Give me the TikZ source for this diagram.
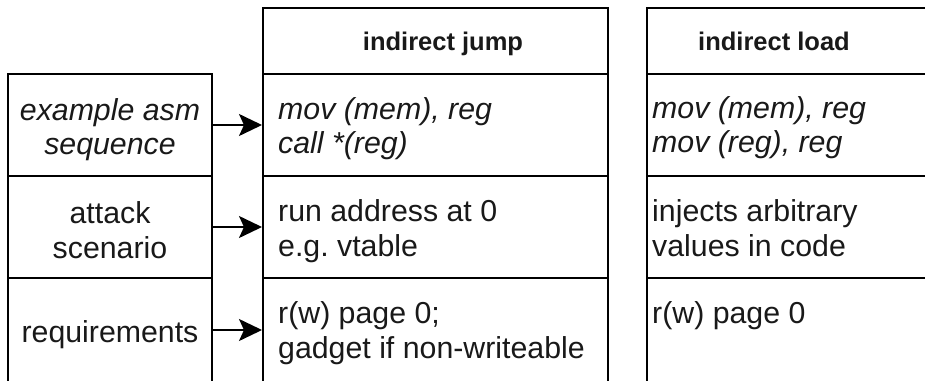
\documentclass[tikz,border=0pt]{standalone}
\usepackage{fontspec}
\setmainfont{Liberation Sans}
\usetikzlibrary{arrows.meta}
\frenchspacing
\begin{document}
\begin{tikzpicture}[x=1pt,y=-1pt,
  cell/.style={draw=black, line width=2pt, rectangle, inner sep=0pt, fill=white},
  body/.style={font=\fontsize{30.3}{34.5}\selectfont, inner sep=0pt, text=black!90},
  bodyit/.style={font=\fontsize{30.3}{34.5}\selectfont\itshape, inner sep=0pt, text=black!90},
  head/.style={font=\fontsize{25.5}{30}\selectfont\bfseries, inner sep=0pt, text=black!90},
  arr/.style={line width=2pt, -{Stealth[length=23pt,width=22pt,inset=5pt]}}]
\useasboundingbox (0,0) rectangle (925,380);
\clip (0,0) rectangle (925,380);

% row labels
\node[cell, minimum width=204pt, minimum height=102pt] (lasm) at (110,125) {};
\node[cell, minimum width=204pt, minimum height=102pt] (latk) at (110,227) {};
\node[cell, minimum width=204pt, minimum height=104pt] (lreq) at (110,330) {};

% indirect jump column
\node[cell, minimum width=345pt, minimum height=66pt] (jhead) at (435.5,41) {};
\node[cell, minimum width=345pt, minimum height=102pt] (jasm) at (435.5,125) {};
\node[cell, minimum width=345pt, minimum height=102pt] (jatk) at (435.5,227) {};
\node[cell, minimum width=345pt, minimum height=104pt] (jreq) at (435.5,330) {};

% indirect load column
\node[cell, minimum width=343pt, minimum height=66pt] (rhead) at (818.5,41) {};
\node[cell, minimum width=343pt, minimum height=102pt] (rasm) at (818.5,125) {};
\node[cell, minimum width=343pt, minimum height=102pt] (ratk) at (818.5,227) {};
\node[cell, minimum width=343pt, minimum height=104pt] (rreq) at (818.5,330) {};

% connectors
\draw[arr] (lasm.east) -- (jasm.west);
\draw[arr] (latk.east) -- (jatk.west);
\draw[arr] (lreq.east) -- (jreq.west);

% row label texts
\node[bodyit, anchor=base] (tasm1) at (110,120) {example asm};
\node[bodyit, anchor=base] (tasm2) at (110,154) {sequence};
\node[body, anchor=base] (tatk1) at (110,223) {attack};
\node[body, anchor=base] (tatk2) at (110,258) {scenario};
\node[body, anchor=base] (treq) at (110,342) {requirements};

% indirect jump texts
\node[head, anchor=base] (tjh) at (443,50) {indirect jump};
\node[bodyit, anchor=base west] (tj1) at (278,119) {mov (mem), reg};
\node[bodyit, anchor=base west] (tj2) at (278,153) {call *(reg)};
\node[body, anchor=base west] (tj3) at (278,221) {run address at 0};
\node[body, anchor=base west] (tj4) at (278,256) {e.g. vtable};
\node[body, anchor=base west] (tj5) at (278,323) {r(w) page 0;};
\node[body, anchor=base west] (tj6) at (278,358) {gadget if non-writeable};

% indirect load texts
\node[head, anchor=base] (trh) at (774,50) {indirect load};
\node[bodyit, anchor=base west] (tr1) at (652,118) {mov (mem), reg};
\node[bodyit, anchor=base west] (tr2) at (652,152) {mov (reg), reg};
\node[body, anchor=base west] (tr3) at (652,221) {injects arbitrary};
\node[body, anchor=base west] (tr4) at (652,256) {values in code};
\node[body, anchor=base west] (tr5) at (652,323) {r(w) page 0};
\end{tikzpicture}
\end{document}
